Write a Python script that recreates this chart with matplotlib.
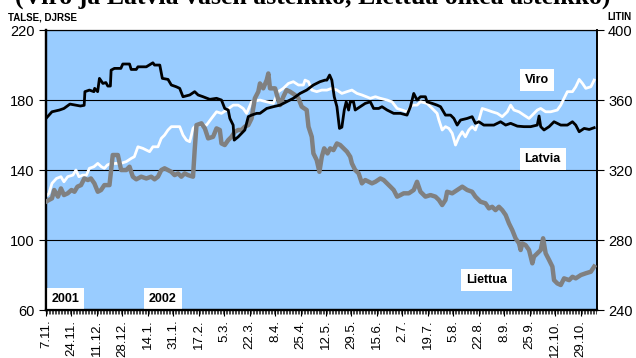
import numpy as np
from matplotlib import pyplot as plt

# day offsets from 7.11.2001 and index values
# Latvia / Viro use the left scale (TALSE, DJRSE), Liettua the right one (LITIN)
latvia = [
    (0, 169.5), (2, 171.4), (4, 173.3), (9, 174.3), (12, 175.2), (16, 177.7), (20, 177.1),
    (23, 176.6), (25.5, 177.0), (26, 184.8), (29, 185.7), (32, 184.8), (32.5, 186.7),
    (34.5, 184.8), (35.7, 192.4), (38, 189.5), (40, 190.0), (41.3, 188.0), (43, 188.0),
    (43.5, 197.1), (45.7, 198.1), (50, 198.1), (51.3, 200.6), (55.8, 200.6), (56.9, 197.5),
    (60.3, 197.5), (61.4, 199.0), (67, 199.0), (71.4, 201.3), (72.5, 200.0), (76, 200.0),
    (77.7, 192.4), (81.5, 191.8), (83.7, 188.6), (87, 187.6), (89.3, 186.7), (91.5, 181.9),
    (96, 182.9), (99.3, 184.8), (101.6, 182.9), (104.9, 181.9), (109.4, 180.4), (113.9, 181.0),
    (117.2, 180.0), (119.4, 175.2), (121.7, 174.3), (122.8, 169.5), (125, 165.7),
    (125.7, 157.1), (128.4, 159.0), (132.8, 162.9), (135.1, 170.5), (137.3, 171.4),
    (140.7, 172.4), (142.9, 172.4), (147.4, 175.2), (151.8, 176.2), (156.3, 177.1),
    (160.7, 179.0), (165.2, 181.0), (169.7, 183.8), (174.1, 185.7), (178.6, 188.6),
    (183, 190.5), (186.4, 191.4), (187.6, 191.4), (189.4, 194.3), (190.9, 191.4),
    (192.5, 181.9), (194.3, 176.2), (196, 163.8), (197.6, 164.5), (199.2, 174.3),
    (200.5, 179.0), (202.1, 174.3), (203.2, 179.0), (205.4, 179.0), (206.5, 174.3),
    (209.9, 176.2), (213.2, 178.1), (216.6, 179.0), (218.8, 175.2), (222.2, 175.2),
    (224.4, 176.2), (227.8, 174.3), (232.2, 172.4), (236.7, 172.4), (241.1, 171.4),
    (243.4, 176.2), (245.6, 183.8), (247.8, 180.0), (250.1, 181.9), (253.4, 181.9),
    (254.5, 179.0), (257.9, 178.1), (261.2, 177.1), (263.5, 176.2), (266.8, 171.4),
    (270.2, 171.4), (272.4, 169.5), (274.6, 165.7), (276.9, 168.6), (281.3, 169.5),
    (284.6, 170.5), (286.8, 166.7), (289.1, 167.6), (292.4, 165.7), (295.8, 165.7),
    (299.1, 165.7), (303.6, 167.6), (307, 165.7), (310.3, 166.7), (314.8, 165.1),
    (319.2, 164.8), (323.7, 164.8), (328.1, 165.7), (329.3, 170.9), (330.4, 164.8),
    (332.6, 162.9), (336, 164.8), (339.3, 167.6), (343.8, 165.7), (348.2, 165.7),
    (351.6, 167.6), (353.8, 165.7), (356.1, 161.9), (359.4, 163.8), (362.8, 163.2),
    (366.1, 164.2),
]

viro = [
    (1, 125.7), (2, 126.7), (4, 132.4), (7, 135.2), (10, 136.2), (12, 133.3), (14.5, 136.2),
    (18, 137.1), (20, 140.0), (22, 136.2), (24.5, 137.1), (27, 137.1), (29, 141.0),
    (32, 141.9), (34.6, 143.8), (37, 141.9), (39, 141.0), (41, 142.9), (43.5, 143.8),
    (50, 143.8), (53.6, 144.8), (57, 146.7), (59, 147.6), (61.4, 153.3), (64.7, 152.4),
    (69.2, 150.5), (71.4, 153.3), (74.8, 153.3), (77, 158.1), (79.2, 160.0), (81.5, 162.9),
    (83.7, 164.8), (87, 164.8), (89.3, 164.8), (91.5, 160.0), (93.8, 157.1), (96, 156.2),
    (98.2, 163.8), (99.3, 164.8), (102.7, 165.7), (107.2, 165.7), (110.5, 169.5),
    (113.9, 173.3), (117.2, 172.4), (120.6, 174.3), (125, 177.1), (128.4, 177.1),
    (131.7, 175.2), (134, 172.4), (137.3, 179.0), (142.9, 180.0), (147.4, 179.0),
    (151.8, 178.1), (155.2, 184.8), (158.5, 186.7), (161.9, 189.5), (165.2, 190.5),
    (168.6, 188.6), (171.9, 188.6), (173, 191.4), (175.3, 190.5), (177.5, 185.7),
    (180.8, 184.8), (184.2, 185.7), (187.6, 185.7), (190.9, 186.7), (194.3, 185.7),
    (197.6, 183.8), (201, 184.8), (204.3, 185.7), (207.7, 183.8), (211, 182.9),
    (216.6, 181.0), (220, 181.9), (223.3, 181.0), (227.8, 180.0), (231.1, 179.0),
    (234.5, 175.2), (237.8, 174.3), (241.1, 173.3), (244.5, 177.1), (247.8, 177.1),
    (250.1, 179.0), (254.5, 178.1), (259, 174.3), (261.2, 172.4), (262.4, 168.6),
    (264.6, 162.9), (266.8, 164.8), (269.1, 163.8), (271.3, 161.0), (273.5, 154.3),
    (275.8, 159.0), (278, 161.9), (280.1, 159.0), (282.4, 162.9), (284.6, 164.8),
    (286.8, 162.9), (289.1, 168.6), (291.3, 175.2), (294.7, 174.3), (298, 173.3),
    (301.4, 172.4), (304.7, 170.5), (308.1, 173.3), (310.3, 177.1), (312.5, 174.3),
    (315.9, 173.3), (319.2, 171.4), (322.6, 169.5), (324.8, 171.4), (328.1, 174.3),
    (330.4, 175.2), (333.7, 173.3), (337.1, 173.3), (341.5, 174.3), (343.8, 177.1),
    (346, 181.0), (348.2, 184.8), (351.6, 184.8), (353.8, 187.6), (356.1, 191.8),
    (358.3, 189.5), (360.5, 186.7), (363.9, 187.6), (366.1, 191.4),
]

liettua = [
    (0, 301.9), (2, 302.9), (4, 303.8), (5.5, 308.6), (8, 304.8), (10, 309.5), (12, 305.7),
    (14.5, 306.7), (17, 308.6), (19, 307.6), (21, 310.5), (23.4, 311.4), (25.6, 315.2),
    (28, 314.3), (30, 315.2), (32.3, 312.4), (34.6, 307.6), (36.8, 308.6), (39, 311.4),
    (42.4, 311.4), (44.6, 328.6), (48, 328.6), (50.2, 320.0), (53.6, 320.0), (55.8, 321.9),
    (58, 316.2), (60.3, 314.7), (63.6, 316.2), (67, 315.2), (70.3, 316.2), (72.5, 314.7),
    (74.8, 316.2), (77, 320.0), (79.2, 321.0), (81.5, 320.0), (83.7, 319.0), (85.9, 317.1),
    (88.2, 318.1), (90.4, 316.2), (92.6, 318.1), (94.9, 317.1), (98.2, 316.2),
    (99.3, 331.4), (100.5, 345.7), (103.8, 346.7), (106.1, 343.8), (108.3, 338.1),
    (111.6, 339.0), (113.9, 343.8), (116.1, 342.9), (117.2, 335.2), (119.4, 334.3),
    (121.7, 337.1), (123.9, 339.0), (126.1, 341.9), (128.4, 342.9), (130.6, 342.9),
    (132.8, 344.8), (135.1, 345.7), (137.3, 349.5), (139.5, 361.0), (141.8, 364.8),
    (142.9, 369.5), (145.1, 366.7), (147.4, 371.4), (148.5, 375.2), (149.6, 366.7),
    (153, 366.7), (155.2, 360.0), (156.3, 357.1), (158.5, 361.9), (160.7, 365.7),
    (163, 364.8), (166.3, 362.9), (168.6, 361.0), (170.8, 356.2), (174.1, 354.3),
    (175.3, 344.8), (177.5, 339.0), (178.6, 329.5), (180.8, 325.7), (182.6, 319.0),
    (184.2, 327.6), (185.8, 332.4), (188, 329.5), (189.8, 332.4), (192, 331.4),
    (194.3, 335.2), (196.5, 334.3), (198.7, 332.4), (201, 330.5), (203.2, 327.6),
    (204.3, 323.8), (206.5, 320.0), (208.8, 318.1), (211, 312.4), (213.2, 314.3),
    (215.5, 313.3), (217.7, 312.4), (220, 313.3), (223.3, 315.2), (225.5, 314.3),
    (227.8, 312.4), (230, 310.5), (232.2, 308.6), (234.5, 304.8), (236.7, 305.7),
    (238.9, 306.7), (242.3, 306.7), (245.6, 308.6), (247.8, 313.3), (250.1, 307.6),
    (253.4, 304.8), (256.8, 305.7), (260.1, 304.8), (262.4, 302.9), (264.6, 300.0),
    (266.8, 302.9), (267.9, 307.6), (271.3, 306.7), (274.6, 308.6), (278, 310.5),
    (281.3, 308.6), (284.6, 307.6), (286.8, 304.8), (290.2, 301.9), (293.5, 301.0),
    (295.8, 298.1), (298, 299.0), (300.2, 297.1), (302.5, 299.0), (304.7, 297.1),
    (307, 294.3), (309.2, 289.5), (311.4, 285.7), (313.6, 281.0), (315.9, 278.1),
    (317, 274.3), (318.1, 278.1), (320.3, 277.1), (322.6, 274.3), (324.8, 266.7),
    (325.9, 270.5), (328.1, 272.4), (330.4, 274.3), (332, 281.0), (333.7, 272.4),
    (336, 268.6), (338.2, 264.8), (339.3, 257.1), (341.5, 255.2), (343.8, 254.3),
    (346, 258.1), (349.4, 257.1), (351.6, 259.0), (353.8, 258.1), (357.2, 260.0),
    (360.5, 261.0), (363.9, 261.9), (366.1, 264.8),
]

tick_labels = ['7.11.', '24.11.', '11.12.', '28.12.', '14.1.', '31.1.', '17.2.', '5.3.',
               '22.3.', '8.4.', '25.4.', '12.5.', '29.5.', '15.6.', '2.7.', '19.7.',
               '5.8.', '22.8.', '8.9.', '25.9.', '12.10.', '29.10.']

plt.rcParams['font.family'] = ['Liberation Sans', 'DejaVu Sans']

fig = plt.figure(figsize=(6.36, 3.58), dpi=100)
ax = fig.add_axes([0.0723, 0.134, 0.8664, 0.782])
ax2 = ax.twinx()

ax.set_facecolor('#99ccff')
ax.set_xlim(0, 368)
ax.set_ylim(60, 220)
ax.set_yticks([60, 100, 140, 180, 220])
ax.grid(axis='y', color='black', linewidth=0.8)
ax.set_axisbelow(True)
ax2.set_ylim(240, 400)
ax2.set_yticks([240, 280, 320, 360, 400])

# lines
x, y = zip(*viro)
ax.plot(x, y, color='white', linewidth=2.0, zorder=3)
x, y = zip(*liettua)
ax2.plot(x, y, color='#808080', linewidth=3.2, zorder=3)
x, y = zip(*latvia)
ax2.plot(x, y, color='black', linewidth=2.0, zorder=4, transform=ax.transData)

# x axis: a label every 17 days, small tick for every day
ax.set_xticks(np.arange(0, 358, 17))
ax.set_xticklabels(tick_labels, rotation=90, fontsize=9.5)
ax.set_xticks(np.arange(0, 368, 1), minor=True)
ax.tick_params(axis='x', which='major', direction='out', length=4, width=0.8, pad=3)
ax.tick_params(axis='x', which='minor', direction='out', length=3, width=0.5)
ax.tick_params(axis='y', direction='out', length=5, width=0.8, labelsize=10.5, pad=3)
ax2.tick_params(axis='y', direction='out', length=5, width=0.8, labelsize=10.5, pad=3)

for a in (ax, ax2):
    a.spines['left'].set_linewidth(1.6)
    a.spines['bottom'].set_linewidth(1.6)
    a.spines['top'].set_linewidth(0.8)
    a.spines['right'].set_linewidth(1.2)

# labels inside the plot
box = dict(facecolor='white', edgecolor='none', pad=3.5)
ax.text(327.7, 191.4, 'Viro', fontsize=9, fontweight='bold', ha='center', va='center', bbox=box, zorder=6)
ax.text(331.7, 146.3, 'Latvia', fontsize=9, fontweight='bold', ha='center', va='center', bbox=box, zorder=6)
ax.text(294.3, 77.1, 'Liettua', fontsize=9, fontweight='bold', ha='center', va='center', bbox=box, zorder=6)
ax.text(12.9, 66.3, '2001', fontsize=9, fontweight='bold', ha='center', va='center', bbox=box, zorder=6)
ax.text(78, 66.3, '2002', fontsize=9, fontweight='bold', ha='center', va='center', bbox=box, zorder=6)

# axis titles and the title strip, which is cut by the top edge as in the original
fig.text(8 / 636, 1 - 17 / 358, 'TALSE, DJRSE', fontsize=7, fontweight='bold', va='center', ha='left')
fig.text(607 / 636, 1 - 17 / 358, 'LITIN', fontsize=7, fontweight='bold', va='center', ha='left')
fig.text(15 / 636, 1 - 3.5 / 358, '(Viro ja Latvia vasen asteikko, Liettua oikea asteikko)',
         fontsize=18.5, fontweight='bold', family='Liberation Serif', ha='left', va='baseline')

fig.savefig('out.png', dpi=100)
